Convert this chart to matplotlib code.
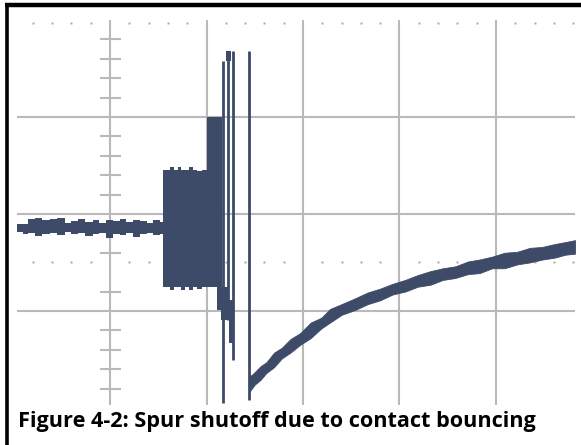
import matplotlib
matplotlib.use("Agg")
import matplotlib.pyplot as plt
from matplotlib.patches import Rectangle
from matplotlib.lines import Line2D

TRACE = "#3d4b69"
GRID = "#b9b9b9"

# scope screen, units = divisions (x: 0 at centre axis, y: 0 at middle gridline)
# pre-event trace envelope: baseline noise, noisy block, step up
env_x = [-0.964, -0.90, -0.85, -0.78, -0.70, -0.62, -0.55, -0.47, -0.40, -0.33, -0.26, -0.18,
         -0.11, -0.04, 0.03, 0.10, 0.17, 0.24, 0.31, 0.38, 0.45, 0.52,
         0.549, 0.62, 0.66, 0.70, 0.74, 0.78, 0.82, 0.86, 0.90, 0.95,
         1.005, 1.11, 1.16]
env_hi = [-0.10, -0.10, -0.05, -0.04, -0.06, -0.05, -0.04, -0.09, -0.07, -0.05, -0.08, -0.06,
          -0.09, -0.06, -0.07, -0.05, -0.08, -0.06, -0.07, -0.09, -0.06, -0.08,
          0.45, 0.48, 0.45, 0.48, 0.45, 0.45, 0.48, 0.45, 0.44, 0.45,
          1.00, 1.00, 1.00]
env_lo = [-0.19, -0.21, -0.20, -0.23, -0.21, -0.20, -0.22, -0.19, -0.21, -0.20, -0.23, -0.21,
          -0.20, -0.25, -0.21, -0.22, -0.20, -0.24, -0.21, -0.20, -0.22, -0.21,
          -0.75, -0.78, -0.75, -0.75, -0.78, -0.75, -0.78, -0.75, -0.77, -0.75,
          -0.75, -0.99, -0.99]

# contact bounce spikes
bounce_x = [1.171, 1.223, 1.275, 1.440]
bounce_top = [1.58, 1.68, 1.68, 1.68]
bounce_bot = [-1.95, -1.09, -1.51, -1.92]
# thick parts of the bounce region: (x0, x1, y0, y1)
bounce_blocks = [(1.202, 1.254, 1.58, 1.68), (1.15, 1.22, -1.09, -0.75), (1.233, 1.275, -1.33, -0.89)]

# recovery after the last bounce
rec_x = [1.440, 1.47, 1.50, 1.56, 1.62, 1.70, 1.78, 1.87, 1.97, 2.08, 2.19, 2.28, 2.40, 2.54,
         2.67, 2.80, 2.93, 3.06, 3.19, 3.32, 3.45, 3.58, 3.71, 3.83, 3.96, 4.09, 4.22,
         4.35, 4.48, 4.61, 4.72, 4.819]
rec_hi = [-1.67, -1.66, -1.63, -1.57, -1.53, -1.43, -1.38, -1.29, -1.23, -1.12, -1.07, -0.98, -0.93, -0.87,
          -0.81, -0.77, -0.72, -0.68, -0.63, -0.59, -0.56, -0.54, -0.49, -0.47, -0.44, -0.40, -0.39,
          -0.35, -0.34, -0.31, -0.29, -0.27]
rec_lo = [-1.84, -1.80, -1.76, -1.71, -1.64, -1.58, -1.49, -1.43, -1.35, -1.28, -1.18, -1.12, -1.04, -0.99,
          -0.93, -0.89, -0.83, -0.80, -0.75, -0.73, -0.68, -0.66, -0.62, -0.61, -0.56, -0.56, -0.52,
          -0.50, -0.47, -0.45, -0.42, -0.41]

grid_x = [0, 1, 2, 3, 4]
grid_y = [-1, 0, 1]
dot_rows = [1.97, -0.5]
axis_ticks = [1.8, 1.6, 1.4, 1.2, 0.8, 0.6, 0.4, 0.2, -0.4, -0.8, -1.2, -1.4, -1.6, -1.8]

caption = "Figure 4-2: Spur shutoff due to contact bouncing"

W, H = 581, 445
fig = plt.figure(figsize=(W / 100, H / 100), dpi=100)
fig.patch.set_facecolor("white")
ax = fig.add_axes([17 / W, (H - 405) / H, (575 - 17) / W, (405 - 20) / H])
ax.set_xlim(-0.964, 4.819)
ax.set_ylim(-1.97, 2.0)
ax.axis("off")

for gx in grid_x:
    ax.axvline(gx, color=GRID, lw=1.5, zorder=1)
for gy in grid_y:
    ax.axhline(gy, color=GRID, lw=1.5, zorder=1)

# dotted graticule rows
dots = [-0.8 + 0.2 * i for i in range(29)]
for row in dot_rows:
    xs = [d for d in dots if abs(d - round(d)) > 0.05]
    ax.plot(xs, [row] * len(xs), ls="none", marker="s", ms=1.6, color="#aaaaaa", mec="none", zorder=1)

# minor ticks on the centre axis
ax.hlines(axis_ticks, -0.105, 0.115, color=GRID, lw=1.5, zorder=1)

# trace
ax.fill_between(env_x, env_hi, env_lo, step="post", color=TRACE, lw=0, zorder=3)
ax.vlines(bounce_x, bounce_bot, bounce_top, color=TRACE, lw=2.0, zorder=3)
for x0, x1, y0, y1 in bounce_blocks:
    ax.add_patch(Rectangle((x0, y0), x1 - x0, y1 - y0, color=TRACE, lw=0, zorder=3))
ax.fill_between(rec_x, rec_hi, rec_lo, color=TRACE, lw=0.6, ec=TRACE, zorder=3)

# page frame (left and top edges)
fig.add_artist(Line2D([6.5 / W, 6.5 / W], [0, 1 - 3 / H], color="black", lw=2.6, solid_capstyle="butt"))
fig.add_artist(Line2D([5 / W, 1], [1 - 5 / H, 1 - 5 / H], color="black", lw=3.2, solid_capstyle="butt"))

# caption, sized to span the same width as the original
t = fig.text(18 / W, 1 - 427 / H, caption, fontsize=15, fontweight="bold",
             family="Open Sans", color="black", ha="left", va="baseline")
fig.canvas.draw()
w = t.get_window_extent().width
t.set_fontsize(15 * 520 / w)

fig.savefig("out.png", dpi=100)
